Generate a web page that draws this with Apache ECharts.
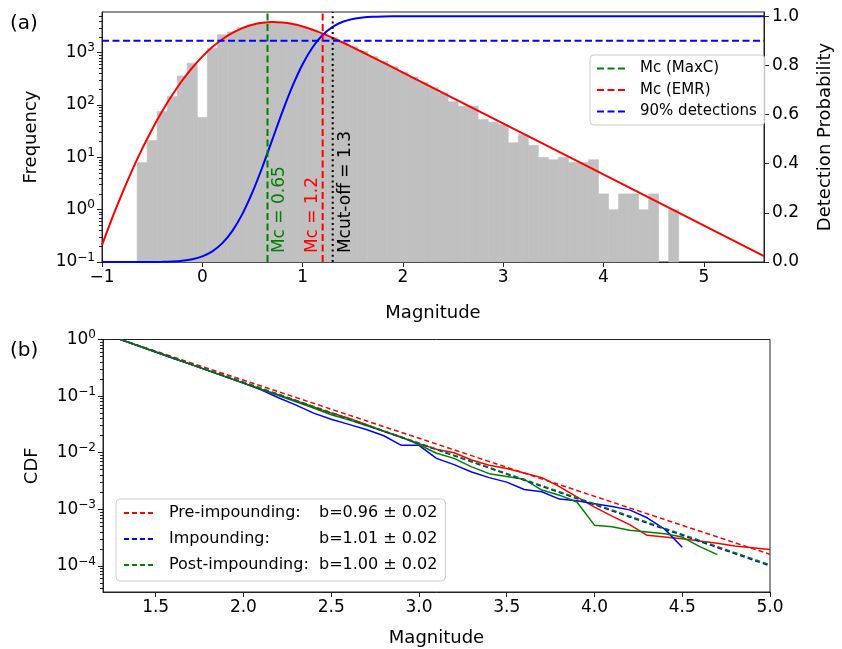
<!DOCTYPE html>
<html><head><meta charset="utf-8">
<script src="https://cdn.jsdelivr.net/npm/echarts@6/dist/echarts.min.js"></script>
<style>html,body{margin:0;padding:0;background:#fff}#chart{width:842px;height:649px}</style>
</head><body><div id="chart"></div>
<script>
// ================= Panel (a) data =================
const histCenters = [-0.6,-0.5,-0.4,-0.3,-0.2,-0.1,0.0,0.1,0.2,0.3,0.4,0.5,0.6,0.7,0.8,0.9,1.0,1.1,1.2,1.3,1.4,1.5,1.6,1.7,1.8,1.9,2.0,2.1,2.2,2.3,2.4,2.5,2.6,2.7,2.8,2.9,3.0,3.1,3.2,3.3,3.4,3.5,3.6,3.7,3.8,3.9,4.0,4.1,4.2,4.3,4.4,4.5,4.6,4.7];
const histCounts  = [8,21,75,145,360,630,58,1220,2200,2500,3000,3400,3700,3800,3700,3500,3100,2700,2300,1950,1600,1300,1050,850,680,540,430,345,270,215,170,115,95,95,53,47,42,19,27,17,10,9,10,8,8,9,2,1,2,2,1,2,0,1];
const histBinWidth = 0.1;

const emrMag  = [-1.0,-0.9,-0.8,-0.7,-0.6,-0.5,-0.4,-0.3,-0.2,-0.1,0.0,0.1,0.2,0.3,0.4,0.5,0.6,0.7,0.8,0.9,1.0,1.1,1.2,1.3,1.4,1.5,1.6,1.7,1.8,2.0,5.6];
const emrFreq = [0.21,0.68,2.03,5.65,14.5,34.4,76,155,294,516,843,1282,1811,2393,2958,3428,3741,3855,3776,3524,3165,2750,2319,1922,1568,1268,1020,817,654,418,0.130];

const detMag  = [-1.0,-0.9,-0.8,-0.7,-0.6,-0.5,-0.4,-0.3,-0.2,-0.1,0.0,0.1,0.2,0.3,0.4,0.5,0.6,0.7,0.8,0.9,1.0,1.1,1.2,1.3,1.4,1.5,1.6,1.7,1.8,2.0,2.2,5.6];
const detProb = [0,0,0,0,0.0001,0.0003,0.0008,0.0021,0.0051,0.0111,0.0228,0.0433,0.0766,0.1265,0.1957,0.2839,0.3875,0.5,0.6125,0.7161,0.8043,0.8735,0.9234,0.9567,0.9772,0.9889,0.9949,0.9978,0.9991,0.9999,1.0,1.0];

const mcMaxC = 0.65, mcEMR = 1.2, mCutOff = 1.3, detLevel = 0.9;
const annoTexts = ['Mc = 0.65', 'Mc = 1.2', 'Mcut-off = 1.3'];
const annoMags  = [mcMaxC, mcEMR, mCutOff];

const topXTicks = [-1,0,1,2,3,4,5];
const topYTicks = [0.1,1,10,100,1000];
const probTicks = [0,0.2,0.4,0.6,0.8,1.0];

// ================= Panel (b) data =================
const cdfMag = [1.3,1.4,1.5,1.6,1.7,1.8,1.9,2.0,2.1,2.2,2.3,2.4,2.5,2.6,2.7,2.8,2.9,3.0,3.1,3.2,3.3,3.4,3.5,3.6,3.7,3.8,3.9,4.0,4.1,4.2,4.3,4.4,4.5,4.6,4.7,4.8,4.9,5.0];
// log10 of the cumulative fraction
const preLogCdf  = [0,-0.11,-0.22,-0.33,-0.44,-0.55,-0.66,-0.77,-0.88,-0.98,-1.08,-1.19,-1.30,-1.39,-1.50,-1.62,-1.73,-1.84,-1.94,-2.00,-2.13,-2.22,-2.28,-2.36,-2.44,-2.60,-2.78,-2.96,-3.12,-3.27,-3.46,-3.49,-3.52,-3.56,-3.60,-3.65,-3.68,-3.71];
const impLogCdf  = [0,-0.11,-0.22,-0.33,-0.44,-0.55,-0.66,-0.77,-0.89,-1.03,-1.16,-1.30,-1.41,-1.50,-1.59,-1.70,-1.87,-1.87,-2.10,-2.21,-2.34,-2.44,-2.52,-2.65,-2.69,-2.82,-2.85,-2.90,-2.95,-3.01,-3.15,-3.35,-3.67];
const postLogCdf = [0,-0.11,-0.22,-0.33,-0.44,-0.55,-0.66,-0.77,-0.88,-0.99,-1.10,-1.21,-1.33,-1.42,-1.52,-1.62,-1.72,-1.86,-2.01,-2.10,-2.25,-2.37,-2.42,-2.47,-2.66,-2.75,-2.87,-3.28,-3.31,-3.37,-3.40,-3.43,-3.49,-3.66,-3.80];
const fitMag = [1.3, 5.0];
const preFitLog  = [0, -3.796];
const impFitLog  = [0, -4.00];
const postFitLog = [0, -3.98];
const fitNames  = ['Pre-impounding:', 'Impounding:', 'Post-impounding:'];
const fitBText  = ['b=0.96 \u00b1 0.02', 'b=1.01 \u00b1 0.02', 'b=1.00 \u00b1 0.02'];

const botXTicks = [1.5,2.0,2.5,3.0,3.5,4.0,4.5,5.0];
const botYTicks = [0.0001,0.001,0.01,0.1,1];

// ================= ranges =================
const topXMin = -1, topXMax = 5.6, topYMin = 0.1, topYMax = 6000, probMax = 1.017;
const botXMin = 1.2, botXMax = 5.0, botYMin = 3.46e-5, botYMax = 1;

const FONT = 'DejaVu Sans';
const RED = '#ff0000', BLUE = '#0000ff', GREEN = '#008000', GREY = '#c0c0c0', AX = '#222';

function supLabel(v){
  const e = Math.round(Math.log10(v));
  return '{b|10}{s|' + (e < 0 ? '\u2212' + (-e) : String(e)) + '}';
}
const supRich = {
  b: {fontSize: 17, fontFamily: FONT, color: '#000'},
  s: {fontSize: 12, fontFamily: FONT, color: '#000', padding: [0, 0, 9, 0]}
};
function minorTicks(lo, hi){
  const out = [];
  for (let d = Math.floor(Math.log10(lo)); d <= Math.ceil(Math.log10(hi)); d++) {
    for (let k = 2; k <= 9; k++) { const v = k * Math.pow(10, d); if (v > lo && v < hi) out.push(v); }
  }
  return out;
}
const pairs = (xs, ys) => xs.map((x, i) => [x, ys[i]]);
const pairsLog = (xs, ys) => ys.map((y, i) => [xs[i], Math.pow(10, y)]);

const axLine = {show: true, onZero: false, lineStyle: {color: AX, width: 1}};
const noLine = {show: false, onZero: false};
const tick = (vals, len) => ({show: true, inside: false, length: len, lineStyle: {color: AX, width: 1}, customValues: vals});
const nameStyle = {fontSize: 18, fontFamily: FONT, color: '#000'};
const lblStyle = {fontSize: 17, fontFamily: FONT, color: '#000'};

const histData = histCenters.map((c, i) => [c - histBinWidth / 2, c + histBinWidth / 2, histCounts[i]]).filter(d => d[2] > 0);

const option = {
  animation: false,
  backgroundColor: '#fff',
  textStyle: {fontFamily: FONT},
  grid: [
    {left: 102, right: 72.5, top: 12, bottom: 387, show: true, borderColor: AX, borderWidth: 1, backgroundColor: 'transparent'},
    {left: 103, right: 72, top: 339.5, bottom: 57, show: true, borderColor: AX, borderWidth: 1, backgroundColor: 'transparent'}
  ],
  xAxis: [
    {type: 'value', gridIndex: 0, min: topXMin, max: topXMax, axisLine: axLine, splitLine: {show: false},
     axisTick: tick(topXTicks, 5),
     axisLabel: Object.assign({customValues: topXTicks, margin: 7, formatter: v => (v < 0 ? '\u2212' + (-v) : String(v))}, lblStyle),
     name: 'Magnitude', nameLocation: 'middle', nameGap: 42, nameTextStyle: nameStyle},
    {type: 'value', gridIndex: 1, min: botXMin, max: botXMax, axisLine: axLine, splitLine: {show: false},
     axisTick: tick(botXTicks, 5),
     axisLabel: Object.assign({customValues: botXTicks, margin: 7, formatter: v => v.toFixed(1)}, lblStyle),
     name: 'Magnitude', nameLocation: 'middle', nameGap: 37, nameTextStyle: nameStyle}
  ],
  yAxis: [
    {type: 'log', logBase: 10, gridIndex: 0, position: 'left', min: topYMin, max: topYMax, axisLine: axLine, splitLine: {show: false},
     axisTick: tick(topYTicks, 5),
     axisLabel: {customValues: topYTicks, margin: 7, formatter: supLabel, rich: supRich},
     name: 'Frequency', nameLocation: 'middle', nameRotate: 90, nameGap: 62, nameTextStyle: nameStyle},
    {type: 'value', gridIndex: 0, position: 'right', min: 0, max: probMax, axisLine: axLine, splitLine: {show: false},
     axisTick: tick(probTicks, 5),
     axisLabel: Object.assign({customValues: probTicks, margin: 8, formatter: v => v.toFixed(1)}, lblStyle),
     name: 'Detection Probability', nameLocation: 'middle', nameRotate: 90, nameGap: 52, nameTextStyle: nameStyle},
    {type: 'log', logBase: 10, gridIndex: 0, position: 'left', min: topYMin, max: topYMax, axisLine: noLine, splitLine: {show: false},
     axisTick: tick(minorTicks(topYMin, topYMax), 3), axisLabel: {show: false}},
    {type: 'log', logBase: 10, gridIndex: 1, position: 'left', min: botYMin, max: botYMax, axisLine: axLine, splitLine: {show: false},
     axisTick: tick(botYTicks, 5),
     axisLabel: {customValues: botYTicks, margin: 7, formatter: supLabel, rich: supRich},
     name: 'CDF', nameLocation: 'middle', nameRotate: 90, nameGap: 62, nameTextStyle: nameStyle},
    {type: 'log', logBase: 10, gridIndex: 1, position: 'left', min: botYMin, max: botYMax, axisLine: noLine, splitLine: {show: false},
     axisTick: tick(minorTicks(botYMin, botYMax), 3), axisLabel: {show: false}}
  ],
  legend: [
    {data: ['Mc (MaxC)', 'Mc (EMR)', '90% detections'], orient: 'vertical', left: 590, top: 55, selectedMode: false,
     padding: [6, 8, 6, 6], itemGap: 6.5, itemWidth: 30, itemHeight: 14, itemStyle: {opacity: 0},
     backgroundColor: 'rgba(255,255,255,0.85)', borderColor: '#cccccc', borderWidth: 1, borderRadius: 4,
     textStyle: {fontSize: 15, fontFamily: FONT, color: '#000', lineHeight: 15, padding: [0, 0, 0, 8]}},
    {data: fitNames, orient: 'vertical', left: 116, top: 499, selectedMode: false,
     padding: [6, 8, 8, 7], itemGap: 10, itemWidth: 32, itemHeight: 14, itemStyle: {opacity: 0},
     backgroundColor: 'rgba(255,255,255,0.85)', borderColor: '#cccccc', borderWidth: 1, borderRadius: 4,
     formatter: n => '{a|' + n + '}{b|' + fitBText[fitNames.indexOf(n)] + '}',
     textStyle: {fontSize: 16, fontFamily: FONT, color: '#000', lineHeight: 16, padding: [0, 0, 0, 8],
       rich: {a: {fontSize: 16, fontFamily: FONT, width: 150}, b: {fontSize: 16, fontFamily: FONT}}}}
  ],
  graphic: [
    {type: 'text', left: 10, top: 14, style: {text: '(a)', fontSize: 20, fontFamily: FONT, fill: '#000'}},
    {type: 'text', left: 10, top: 341, style: {text: '(b)', fontSize: 20, fontFamily: FONT, fill: '#000'}}
  ],
  series: [
    {type: 'custom', name: 'hist', xAxisIndex: 0, yAxisIndex: 0, data: histData, encode: {x: [0, 1], y: 2}, silent: true, z: 1,
     renderItem: (params, api) => {
       const a = api.coord([api.value(0), api.value(2)]);
       const b = api.coord([api.value(1), topYMin]);
       return {type: 'rect', shape: {x: a[0], y: a[1], width: b[0] - a[0], height: b[1] - a[1]}, style: {fill: GREY, stroke: GREY, lineWidth: 0.6}};
     }},
    {type: 'line', name: 'EMR', xAxisIndex: 0, yAxisIndex: 0, data: pairs(emrMag, emrFreq), symbol: 'none', smooth: 0.25, silent: true, z: 3,
     lineStyle: {color: RED, width: 2}},
    {type: 'line', name: 'detection', xAxisIndex: 0, yAxisIndex: 1, data: pairs(detMag, detProb), symbol: 'none', smooth: 0.25, silent: true, z: 3,
     lineStyle: {color: BLUE, width: 2}},
    {type: 'line', name: 'Mc (MaxC)', xAxisIndex: 0, yAxisIndex: 0, data: [[mcMaxC, topYMin], [mcMaxC, topYMax]], symbol: 'none', silent: true, z: 4,
     lineStyle: {color: GREEN, width: 2, type: [7, 3.5]}, itemStyle: {color: GREEN}},
    {type: 'line', name: 'Mc (EMR)', xAxisIndex: 0, yAxisIndex: 0, data: [[mcEMR, topYMin], [mcEMR, topYMax]], symbol: 'none', silent: true, z: 4,
     lineStyle: {color: RED, width: 2, type: [7, 3.5]}, itemStyle: {color: RED}},
    {type: 'line', name: 'Mcut-off', xAxisIndex: 0, yAxisIndex: 0, data: [[mCutOff, topYMin], [mCutOff, topYMax]], symbol: 'none', silent: true, z: 4,
     lineStyle: {color: '#000', width: 2, type: [2, 3.3]}},
    {type: 'line', name: '90% detections', xAxisIndex: 0, yAxisIndex: 1, data: [[topXMin, detLevel], [topXMax, detLevel]], symbol: 'none', silent: true, z: 4,
     lineStyle: {color: BLUE, width: 1.8, type: [7, 3.5]}, itemStyle: {color: BLUE}},
    {type: 'custom', name: 'annotations', xAxisIndex: 0, yAxisIndex: 0, silent: true, z: 5,
     data: annoMags.map(m => [m, 0.148]),
     renderItem: (params, api) => {
       const i = params.dataIndex;
       const p = api.coord([api.value(0), api.value(1)]);
       const cols = [GREEN, RED, '#000'];
       const dx = [4, -2, 4];
       const va = ['top', 'bottom', 'top'];
       return {type: 'text', x: p[0] + dx[i], y: p[1], rotation: Math.PI / 2,
         style: {text: annoTexts[i], fill: cols[i], fontSize: 17, fontFamily: FONT, align: 'left', verticalAlign: va[i]}};
     }},
    // ---- panel (b)
    {type: 'line', name: 'pre-obs', xAxisIndex: 1, yAxisIndex: 3, data: pairsLog(cdfMag, preLogCdf), symbol: 'none', silent: true, z: 3,
     lineStyle: {color: RED, width: 1.5}},
    {type: 'line', name: 'imp-obs', xAxisIndex: 1, yAxisIndex: 3, data: pairsLog(cdfMag, impLogCdf), symbol: 'none', silent: true, z: 3,
     lineStyle: {color: BLUE, width: 1.5}},
    {type: 'line', name: 'post-obs', xAxisIndex: 1, yAxisIndex: 3, data: pairsLog(cdfMag, postLogCdf), symbol: 'none', silent: true, z: 3,
     lineStyle: {color: GREEN, width: 1.5}},
    {type: 'line', name: fitNames[0], xAxisIndex: 1, yAxisIndex: 3, data: pairsLog(fitMag, preFitLog), symbol: 'none', silent: true, z: 4,
     lineStyle: {color: RED, width: 1.5, type: [5, 3]}, itemStyle: {color: RED}},
    {type: 'line', name: fitNames[1], xAxisIndex: 1, yAxisIndex: 3, data: pairsLog(fitMag, impFitLog), symbol: 'none', silent: true, z: 4,
     lineStyle: {color: BLUE, width: 1.5, type: [5, 3]}, itemStyle: {color: BLUE}},
    {type: 'line', name: fitNames[2], xAxisIndex: 1, yAxisIndex: 3, data: pairsLog(fitMag, postFitLog), symbol: 'none', silent: true, z: 4,
     lineStyle: {color: GREEN, width: 1.5, type: [5, 3]}, itemStyle: {color: GREEN}}
  ]
};
const chart = echarts.init(document.getElementById('chart'), null, {renderer: 'canvas'});
chart.setOption(option);
</script>
</body></html>
